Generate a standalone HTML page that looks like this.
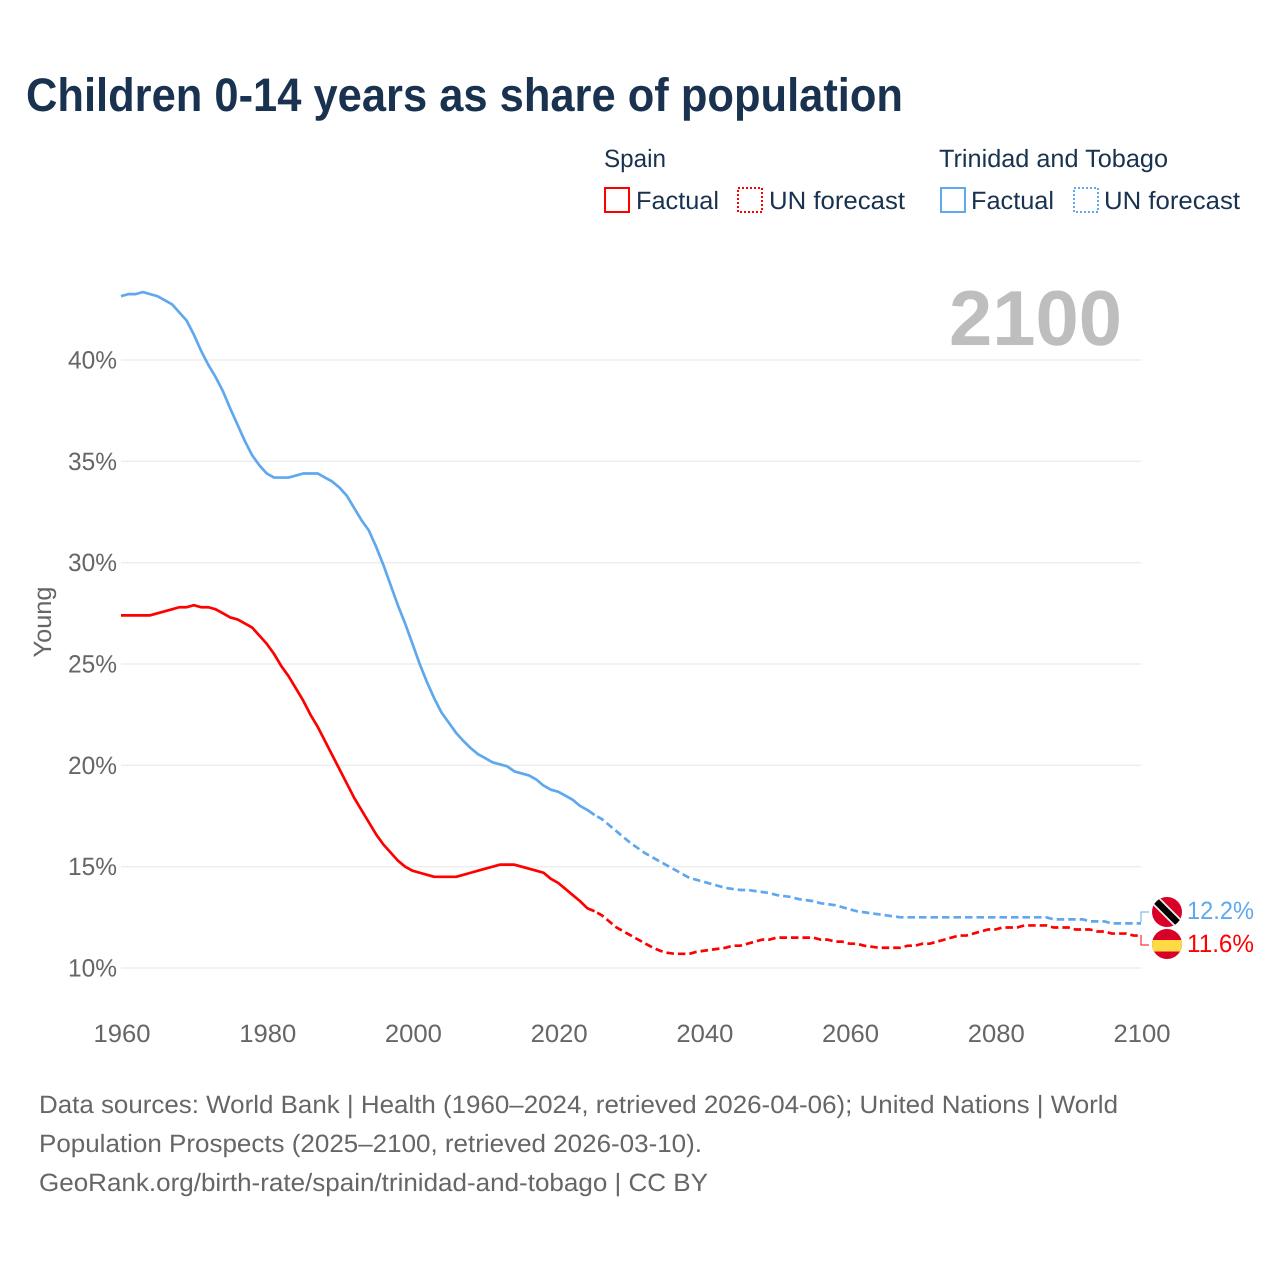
<!DOCTYPE html>
<html lang="en">
<head>
<meta charset="utf-8">
<title>Children 0-14 years as share of population</title>
<style>
html,body{margin:0;padding:0;background:#fff;}
svg{display:block;font-family:"Liberation Sans",sans-serif;}
text{text-rendering:geometricPrecision;}
</style>
</head>
<body>
<svg id="chart" xmlns="http://www.w3.org/2000/svg" width="1280" height="1280" viewBox="0 0 1280 1280">
  <rect x="0" y="0" width="1280" height="1280" fill="#fff"/>
  <text x="26" y="111" font-size="47" font-weight="700" fill="#18324f" textLength="877" lengthAdjust="spacingAndGlyphs">Children 0-14 years as share of population</text>

  <g font-size="25" fill="#18324f">
    <text x="604" y="167" textLength="62" lengthAdjust="spacingAndGlyphs">Spain</text>
    <text x="939" y="167" textLength="229" lengthAdjust="spacingAndGlyphs">Trinidad and Tobago</text>
    <rect x="605" y="188" width="24" height="24" fill="none" stroke="#ff0000" stroke-width="2"/>
    <text x="636" y="209" textLength="83" lengthAdjust="spacingAndGlyphs">Factual</text>
    <rect x="738" y="188" width="24" height="24" fill="none" stroke="#ff0000" stroke-width="2" stroke-dasharray="2 2"/>
    <text x="769" y="209" textLength="136" lengthAdjust="spacingAndGlyphs">UN forecast</text>
    <rect x="941" y="188" width="24" height="24" fill="none" stroke="#5fa8ee" stroke-width="2"/>
    <text x="971" y="209" textLength="83" lengthAdjust="spacingAndGlyphs">Factual</text>
    <rect x="1074" y="188" width="24" height="24" fill="none" stroke="#5fa8ee" stroke-width="2" stroke-dasharray="2 2"/>
    <text x="1104" y="209" textLength="136" lengthAdjust="spacingAndGlyphs">UN forecast</text>
  </g>

  <g id="grid"></g>
  <g id="yticks" font-size="25" fill="#666"></g>
  <g id="xticks" font-size="25" fill="#666"></g>
  <text transform="translate(51,622) rotate(-90)" text-anchor="middle" font-size="25" fill="#666" textLength="71" lengthAdjust="spacingAndGlyphs">Young</text>
  <text x="949" y="345" font-size="78" font-weight="700" fill="#bebebe" textLength="173" lengthAdjust="spacingAndGlyphs">2100</text>

  <g id="series"></g>

  <path d="M1141 922V912H1149" fill="none" stroke="#5fa8ee" stroke-width="1"/>
  <path d="M1141 935V945H1149" fill="none" stroke="#ff0000" stroke-width="1"/>

  <defs>
    <clipPath id="clip-tt"><circle cx="1167" cy="912" r="15"/></clipPath>
    <clipPath id="clip-es"><circle cx="1167" cy="944" r="15"/></clipPath>
  </defs>
  <g clip-path="url(#clip-tt)">
    <rect x="1150" y="895" width="34" height="34" fill="#d80027"/>
    <line x1="1150" y1="895" x2="1184" y2="929" stroke="#f0f0f0" stroke-width="10"/>
    <line x1="1150" y1="895" x2="1184" y2="929" stroke="#000" stroke-width="6.5"/>
  </g>
  <g clip-path="url(#clip-es)">
    <rect x="1150" y="927" width="34" height="34" fill="#d80027"/>
    <rect x="1150" y="940" width="34" height="11.5" fill="#ffda44"/>
  </g>
  <text x="1187" y="919" font-size="25" fill="#5fa8ee" textLength="67" lengthAdjust="spacingAndGlyphs">12.2%</text>
  <text x="1187" y="952" font-size="25" fill="#ff0000" textLength="67" lengthAdjust="spacingAndGlyphs">11.6%</text>

  <g font-size="25" fill="#666">
    <text x="39" y="1113" textLength="1079" lengthAdjust="spacingAndGlyphs">Data sources: World Bank | Health (1960–2024, retrieved 2026-04-06); United Nations | World</text>
    <text x="39" y="1152" textLength="663" lengthAdjust="spacingAndGlyphs">Population Prospects (2025–2100, retrieved 2026-03-10).</text>
    <text x="39" y="1191" textLength="669" lengthAdjust="spacingAndGlyphs">GeoRank.org/birth-rate/spain/trinidad-and-tobago | CC BY</text>
  </g>
</svg>
<script>
const yTickValues = [10, 15, 20, 25, 30, 35, 40];
const xTickYears = [1960, 1980, 2000, 2020, 2040, 2060, 2080, 2100];
const factualStartYear = 1960;
const forecastStartYear = 2025;
const spainFactual = [27.4,27.4,27.4,27.4,27.4,27.5,27.6,27.7,27.8,27.8,27.9,27.8,27.8,27.7,27.5,27.3,27.2,27.0,26.8,26.4,26.0,25.5,24.9,24.4,23.8,23.2,22.5,21.9,21.2,20.5,19.8,19.1,18.4,17.8,17.2,16.6,16.1,15.7,15.3,15.0,14.8,14.7,14.6,14.5,14.5,14.5,14.5,14.6,14.7,14.8,14.9,15.0,15.1,15.1,15.1,15.0,14.9,14.8,14.7,14.4,14.2,13.9,13.6,13.3,12.95,12.8];
const spainForecast = [12.8,12.6,12.3,12.0,11.8,11.6,11.4,11.2,11.0,10.85,10.75,10.7,10.7,10.7,10.8,10.85,10.9,10.95,11.0,11.1,11.1,11.2,11.3,11.4,11.4,11.5,11.5,11.5,11.5,11.5,11.5,11.4,11.4,11.3,11.3,11.2,11.2,11.1,11.05,11.0,11.0,11.0,11.0,11.1,11.1,11.2,11.2,11.3,11.4,11.5,11.6,11.6,11.7,11.8,11.9,11.9,12.0,12.0,12.0,12.1,12.1,12.1,12.1,12.0,12.0,12.0,11.9,11.9,11.9,11.8,11.8,11.7,11.7,11.7,11.6,11.6];
const trinidadFactual = [43.15,43.25,43.25,43.35,43.25,43.15,42.95,42.75,42.35,41.95,41.25,40.45,39.75,39.15,38.45,37.6,36.8,36.0,35.3,34.8,34.4,34.2,34.2,34.2,34.3,34.4,34.4,34.4,34.2,34.0,33.7,33.3,32.7,32.1,31.6,30.8,29.9,28.9,27.9,27.0,26.0,25.0,24.1,23.3,22.6,22.1,21.6,21.2,20.85,20.55,20.35,20.15,20.05,19.95,19.7,19.6,19.5,19.3,19.0,18.8,18.7,18.5,18.3,18.0,17.8,17.55];
const trinidadForecast = [17.55,17.35,17.05,16.75,16.45,16.15,15.9,15.65,15.45,15.25,15.05,14.85,14.65,14.45,14.35,14.25,14.15,14.05,13.95,13.9,13.85,13.85,13.8,13.75,13.7,13.6,13.55,13.5,13.4,13.35,13.3,13.2,13.15,13.1,13.0,12.9,12.8,12.75,12.7,12.65,12.6,12.55,12.5,12.5,12.5,12.5,12.5,12.5,12.5,12.5,12.5,12.5,12.5,12.5,12.5,12.5,12.5,12.5,12.5,12.5,12.5,12.5,12.5,12.4,12.4,12.4,12.4,12.4,12.3,12.3,12.3,12.2,12.2,12.2,12.2,12.2];

const SVG_NS = 'http://www.w3.org/2000/svg';
function xScale(year) { return 121 + (year - 1960) * (1020 / 140); }
function yScale(value) { return 968 - (value - 10) * (608 / 30); }
function buildPath(values, startYear) {
  return values.map(function (v, i) {
    return (i ? 'L' : 'M') + xScale(startYear + i).toFixed(2) + ' ' + yScale(v).toFixed(2);
  }).join('');
}

const grid = document.getElementById('grid');
const yticks = document.getElementById('yticks');
yTickValues.forEach(function (v) {
  const line = document.createElementNS(SVG_NS, 'line');
  
  
  line.setAttribute('x1', 121);
  line.setAttribute('x2', 1141);
  line.setAttribute('y1', yScale(v));
  line.setAttribute('y2', yScale(v));
  line.setAttribute('stroke', '#ededed');
  line.setAttribute('stroke-width', 1.5);
  grid.appendChild(line);

  const label = document.createElementNS(SVG_NS, 'text');
  
  
  label.setAttribute('x', 68);
  label.setAttribute('y', yScale(v) + 8.5);
  label.setAttribute('textLength', 49);
  label.setAttribute('lengthAdjust', 'spacingAndGlyphs');
  label.textContent = v + '%';
  yticks.appendChild(label);
});

const xticks = document.getElementById('xticks');
xTickYears.forEach(function (year) {
  const label = document.createElementNS(SVG_NS, 'text');
  
  
  label.setAttribute('x', xScale(year) - 28 + 0.5);
  label.setAttribute('y', 1042);
  label.setAttribute('textLength', 57);
  label.setAttribute('lengthAdjust', 'spacingAndGlyphs');
  label.textContent = year;
  xticks.appendChild(label);
});

const series = document.getElementById('series');
function addLine(name, values, startYear, color, dashed) {
  const path = document.createElementNS(SVG_NS, 'path');
  
  
  path.setAttribute('d', buildPath(values, startYear));
  path.setAttribute('fill', 'none');
  path.setAttribute('stroke', color);
  path.setAttribute('stroke-width', 2.7);
  path.setAttribute('stroke-linejoin', 'round');
  if (dashed) {
    path.setAttribute('stroke-dasharray', '7.5 4');
    path.setAttribute('stroke-dashoffset', '-3');
  }
  series.appendChild(path);
}
addLine('trinidad-factual-line', trinidadFactual, factualStartYear, '#5fa8ee', false);
addLine('trinidad-forecast-line', trinidadForecast, forecastStartYear, '#5fa8ee', true);
addLine('spain-factual-line', spainFactual, factualStartYear, '#ff0000', false);
addLine('spain-forecast-line', spainForecast, forecastStartYear, '#ff0000', true);
</script>
</body>
</html>
